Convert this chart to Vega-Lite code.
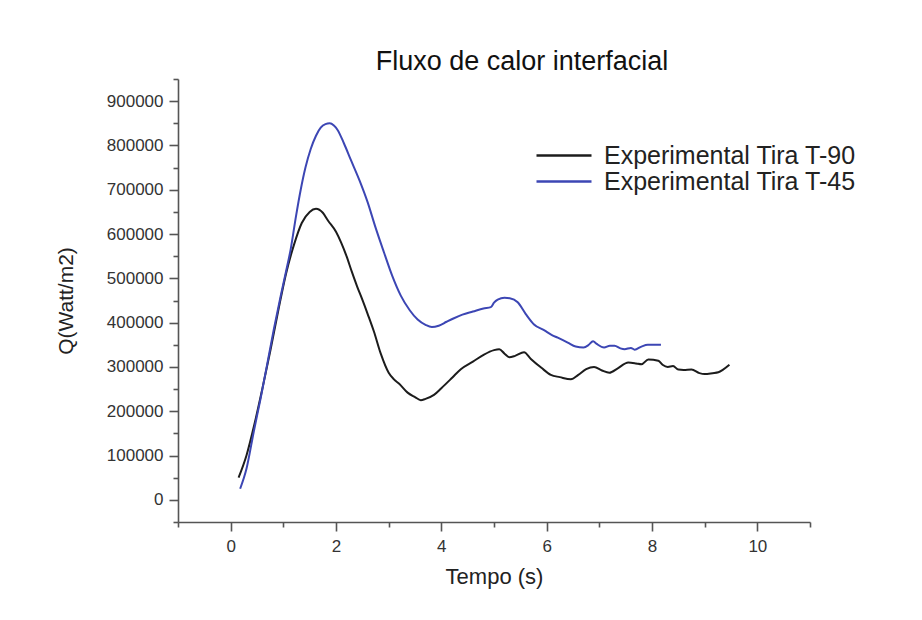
{
  "$schema": "https://vega.github.io/schema/vega-lite/v6.json",
  "autosize": {"type": "none"},
  "padding": {"left": 178, "top": 79, "right": 112, "bottom": 98},
  "width": 632,
  "height": 443,
  "background": "white",
  "config": {
    "view": {"stroke": null},
    "font": "Liberation Sans",
    "axis": {"grid": false, "domainColor": "#555", "domainWidth": 1.6, "tickColor": "#555", "tickWidth": 1.6, "labelFont": "Liberation Sans", "labelColor": "#333", "labelFontSize": 17, "titleFont": "Liberation Sans", "titleFontWeight": "normal", "titleColor": "#222", "titleFontSize": 22}
  },
  "title": {"text": "Fluxo de calor interfacial", "fontSize": 27, "fontWeight": "normal", "color": "#111", "anchor": "middle", "dx": 28, "offset": 2},
  "data": {"values": [
    {"serie": "Experimental Tira T-90", "tempo": 0.15, "q": 50000},
    {"serie": "Experimental Tira T-90", "tempo": 0.3, "q": 100000},
    {"serie": "Experimental Tira T-90", "tempo": 0.45, "q": 170000},
    {"serie": "Experimental Tira T-90", "tempo": 0.6, "q": 250000},
    {"serie": "Experimental Tira T-90", "tempo": 0.75, "q": 335000},
    {"serie": "Experimental Tira T-90", "tempo": 0.9, "q": 425000},
    {"serie": "Experimental Tira T-90", "tempo": 1.05, "q": 510000},
    {"serie": "Experimental Tira T-90", "tempo": 1.2, "q": 575000},
    {"serie": "Experimental Tira T-90", "tempo": 1.35, "q": 625000},
    {"serie": "Experimental Tira T-90", "tempo": 1.5, "q": 650000},
    {"serie": "Experimental Tira T-90", "tempo": 1.62, "q": 657000},
    {"serie": "Experimental Tira T-90", "tempo": 1.75, "q": 648000},
    {"serie": "Experimental Tira T-90", "tempo": 1.85, "q": 630000},
    {"serie": "Experimental Tira T-90", "tempo": 2.0, "q": 605000},
    {"serie": "Experimental Tira T-90", "tempo": 2.1, "q": 580000},
    {"serie": "Experimental Tira T-90", "tempo": 2.2, "q": 550000},
    {"serie": "Experimental Tira T-90", "tempo": 2.3, "q": 515000},
    {"serie": "Experimental Tira T-90", "tempo": 2.4, "q": 482000},
    {"serie": "Experimental Tira T-90", "tempo": 2.5, "q": 452000},
    {"serie": "Experimental Tira T-90", "tempo": 2.6, "q": 420000},
    {"serie": "Experimental Tira T-90", "tempo": 2.72, "q": 380000},
    {"serie": "Experimental Tira T-90", "tempo": 2.85, "q": 330000},
    {"serie": "Experimental Tira T-90", "tempo": 3.0, "q": 287000},
    {"serie": "Experimental Tira T-90", "tempo": 3.1, "q": 272000},
    {"serie": "Experimental Tira T-90", "tempo": 3.2, "q": 262000},
    {"serie": "Experimental Tira T-90", "tempo": 3.36, "q": 242000},
    {"serie": "Experimental Tira T-90", "tempo": 3.5, "q": 232000},
    {"serie": "Experimental Tira T-90", "tempo": 3.61, "q": 225000},
    {"serie": "Experimental Tira T-90", "tempo": 3.7, "q": 228000},
    {"serie": "Experimental Tira T-90", "tempo": 3.86, "q": 237000},
    {"serie": "Experimental Tira T-90", "tempo": 4.0, "q": 252000},
    {"serie": "Experimental Tira T-90", "tempo": 4.2, "q": 275000},
    {"serie": "Experimental Tira T-90", "tempo": 4.37, "q": 295000},
    {"serie": "Experimental Tira T-90", "tempo": 4.6, "q": 312000},
    {"serie": "Experimental Tira T-90", "tempo": 4.81, "q": 328000},
    {"serie": "Experimental Tira T-90", "tempo": 5.0, "q": 338000},
    {"serie": "Experimental Tira T-90", "tempo": 5.1, "q": 340000},
    {"serie": "Experimental Tira T-90", "tempo": 5.2, "q": 330000},
    {"serie": "Experimental Tira T-90", "tempo": 5.29, "q": 322000},
    {"serie": "Experimental Tira T-90", "tempo": 5.4, "q": 325000},
    {"serie": "Experimental Tira T-90", "tempo": 5.57, "q": 333000},
    {"serie": "Experimental Tira T-90", "tempo": 5.7, "q": 318000},
    {"serie": "Experimental Tira T-90", "tempo": 5.9, "q": 298000},
    {"serie": "Experimental Tira T-90", "tempo": 6.08, "q": 282000},
    {"serie": "Experimental Tira T-90", "tempo": 6.25, "q": 277000},
    {"serie": "Experimental Tira T-90", "tempo": 6.46, "q": 272000},
    {"serie": "Experimental Tira T-90", "tempo": 6.6, "q": 282000},
    {"serie": "Experimental Tira T-90", "tempo": 6.75, "q": 295000},
    {"serie": "Experimental Tira T-90", "tempo": 6.9, "q": 300000},
    {"serie": "Experimental Tira T-90", "tempo": 7.05, "q": 292000},
    {"serie": "Experimental Tira T-90", "tempo": 7.19, "q": 287000},
    {"serie": "Experimental Tira T-90", "tempo": 7.35, "q": 297000},
    {"serie": "Experimental Tira T-90", "tempo": 7.55, "q": 310000},
    {"serie": "Experimental Tira T-90", "tempo": 7.7, "q": 308000},
    {"serie": "Experimental Tira T-90", "tempo": 7.8, "q": 306000},
    {"serie": "Experimental Tira T-90", "tempo": 7.93, "q": 317000},
    {"serie": "Experimental Tira T-90", "tempo": 8.12, "q": 314000},
    {"serie": "Experimental Tira T-90", "tempo": 8.2, "q": 305000},
    {"serie": "Experimental Tira T-90", "tempo": 8.3, "q": 300000},
    {"serie": "Experimental Tira T-90", "tempo": 8.4, "q": 302000},
    {"serie": "Experimental Tira T-90", "tempo": 8.5, "q": 294000},
    {"serie": "Experimental Tira T-90", "tempo": 8.6, "q": 293000},
    {"serie": "Experimental Tira T-90", "tempo": 8.75, "q": 294000},
    {"serie": "Experimental Tira T-90", "tempo": 8.9, "q": 286000},
    {"serie": "Experimental Tira T-90", "tempo": 9.0, "q": 284000},
    {"serie": "Experimental Tira T-90", "tempo": 9.15, "q": 286000},
    {"serie": "Experimental Tira T-90", "tempo": 9.26, "q": 288000},
    {"serie": "Experimental Tira T-90", "tempo": 9.35, "q": 294000},
    {"serie": "Experimental Tira T-90", "tempo": 9.47, "q": 305000},
    {"serie": "Experimental Tira T-45", "tempo": 0.18, "q": 25000},
    {"serie": "Experimental Tira T-45", "tempo": 0.3, "q": 70000},
    {"serie": "Experimental Tira T-45", "tempo": 0.44, "q": 155000},
    {"serie": "Experimental Tira T-45", "tempo": 0.57, "q": 230000},
    {"serie": "Experimental Tira T-45", "tempo": 0.7, "q": 310000},
    {"serie": "Experimental Tira T-45", "tempo": 0.82, "q": 385000},
    {"serie": "Experimental Tira T-45", "tempo": 0.95, "q": 460000},
    {"serie": "Experimental Tira T-45", "tempo": 1.05, "q": 515000},
    {"serie": "Experimental Tira T-45", "tempo": 1.14, "q": 566000},
    {"serie": "Experimental Tira T-45", "tempo": 1.24, "q": 640000},
    {"serie": "Experimental Tira T-45", "tempo": 1.33, "q": 700000},
    {"serie": "Experimental Tira T-45", "tempo": 1.42, "q": 750000},
    {"serie": "Experimental Tira T-45", "tempo": 1.52, "q": 792000},
    {"serie": "Experimental Tira T-45", "tempo": 1.62, "q": 822000},
    {"serie": "Experimental Tira T-45", "tempo": 1.71, "q": 840000},
    {"serie": "Experimental Tira T-45", "tempo": 1.8, "q": 848000},
    {"serie": "Experimental Tira T-45", "tempo": 1.88, "q": 850000},
    {"serie": "Experimental Tira T-45", "tempo": 1.96, "q": 845000},
    {"serie": "Experimental Tira T-45", "tempo": 2.03, "q": 835000},
    {"serie": "Experimental Tira T-45", "tempo": 2.15, "q": 805000},
    {"serie": "Experimental Tira T-45", "tempo": 2.28, "q": 768000},
    {"serie": "Experimental Tira T-45", "tempo": 2.45, "q": 720000},
    {"serie": "Experimental Tira T-45", "tempo": 2.6, "q": 672000},
    {"serie": "Experimental Tira T-45", "tempo": 2.75, "q": 615000},
    {"serie": "Experimental Tira T-45", "tempo": 2.91, "q": 559000},
    {"serie": "Experimental Tira T-45", "tempo": 3.07, "q": 505000},
    {"serie": "Experimental Tira T-45", "tempo": 3.23, "q": 461000},
    {"serie": "Experimental Tira T-45", "tempo": 3.4, "q": 428000},
    {"serie": "Experimental Tira T-45", "tempo": 3.55, "q": 407000},
    {"serie": "Experimental Tira T-45", "tempo": 3.7, "q": 395000},
    {"serie": "Experimental Tira T-45", "tempo": 3.82, "q": 390000},
    {"serie": "Experimental Tira T-45", "tempo": 3.95, "q": 393000},
    {"serie": "Experimental Tira T-45", "tempo": 4.1, "q": 402000},
    {"serie": "Experimental Tira T-45", "tempo": 4.24, "q": 410000},
    {"serie": "Experimental Tira T-45", "tempo": 4.4, "q": 418000},
    {"serie": "Experimental Tira T-45", "tempo": 4.6, "q": 425000},
    {"serie": "Experimental Tira T-45", "tempo": 4.8, "q": 432000},
    {"serie": "Experimental Tira T-45", "tempo": 4.94, "q": 435000},
    {"serie": "Experimental Tira T-45", "tempo": 5.0, "q": 445000},
    {"serie": "Experimental Tira T-45", "tempo": 5.07, "q": 452000},
    {"serie": "Experimental Tira T-45", "tempo": 5.2, "q": 456000},
    {"serie": "Experimental Tira T-45", "tempo": 5.3, "q": 455000},
    {"serie": "Experimental Tira T-45", "tempo": 5.45, "q": 446000},
    {"serie": "Experimental Tira T-45", "tempo": 5.6, "q": 420000},
    {"serie": "Experimental Tira T-45", "tempo": 5.76, "q": 396000},
    {"serie": "Experimental Tira T-45", "tempo": 5.95, "q": 383000},
    {"serie": "Experimental Tira T-45", "tempo": 6.1, "q": 372000},
    {"serie": "Experimental Tira T-45", "tempo": 6.21, "q": 366000},
    {"serie": "Experimental Tira T-45", "tempo": 6.4, "q": 355000},
    {"serie": "Experimental Tira T-45", "tempo": 6.55, "q": 346000},
    {"serie": "Experimental Tira T-45", "tempo": 6.7, "q": 344000},
    {"serie": "Experimental Tira T-45", "tempo": 6.8, "q": 350000},
    {"serie": "Experimental Tira T-45", "tempo": 6.88, "q": 358000},
    {"serie": "Experimental Tira T-45", "tempo": 6.95, "q": 352000},
    {"serie": "Experimental Tira T-45", "tempo": 7.09, "q": 344000},
    {"serie": "Experimental Tira T-45", "tempo": 7.2, "q": 348000},
    {"serie": "Experimental Tira T-45", "tempo": 7.29, "q": 348000},
    {"serie": "Experimental Tira T-45", "tempo": 7.4, "q": 342000},
    {"serie": "Experimental Tira T-45", "tempo": 7.48, "q": 340000},
    {"serie": "Experimental Tira T-45", "tempo": 7.6, "q": 343000},
    {"serie": "Experimental Tira T-45", "tempo": 7.67, "q": 339000},
    {"serie": "Experimental Tira T-45", "tempo": 7.8, "q": 346000},
    {"serie": "Experimental Tira T-45", "tempo": 7.92, "q": 350000},
    {"serie": "Experimental Tira T-45", "tempo": 8.05, "q": 350000},
    {"serie": "Experimental Tira T-45", "tempo": 8.17, "q": 350000}
  ]},
  "layer": [
    {
      "transform": [{"filter": "datum.serie === 'Experimental Tira T-90'"}],
      "mark": {"type": "line", "strokeWidth": 2, "interpolate": "monotone"},
      "encoding": {
        "x": {"field": "tempo", "type": "quantitative", "scale": {"domain": [-1, 11], "nice": false, "zero": false},
              "axis": {"orient": "bottom", "title": "Tempo (s)", "values": [0, 2, 4, 6, 8, 10], "tickSize": 9, "labelPadding": 7, "titlePadding": 12}},
        "y": {"field": "q", "type": "quantitative", "scale": {"domain": [-50000, 950000], "nice": false, "zero": false},
              "axis": {"orient": "left", "title": "Q(Watt/m2)", "values": [0, 100000, 200000, 300000, 400000, 500000, 600000, 700000, 800000, 900000], "format": "d", "tickSize": 9, "labelPadding": 6, "titlePadding": 30, "titleFontSize": 21}},
        "color": {"field": "serie", "type": "nominal",
                  "scale": {"domain": ["Experimental Tira T-90", "Experimental Tira T-45"], "range": ["#1c1c1c", "#3c46b4"]},
                  "legend": {"title": null, "orient": "none", "legendX": 357, "legendY": 64, "symbolType": "stroke", "symbolSize": 3025, "symbolStrokeWidth": 2.5, "clipHeight": 25, "rowPadding": 0, "labelFontSize": 25, "labelFont": "Liberation Sans", "labelColor": "#222", "labelOffset": 11, "labelLimit": 0}}
      }
    },
    {
      "transform": [{"filter": "datum.serie === 'Experimental Tira T-45'"}],
      "mark": {"type": "line", "strokeWidth": 2, "interpolate": "monotone"},
      "encoding": {
        "x": {"field": "tempo", "type": "quantitative",
              "axis": {"orient": "bottom", "title": null, "labels": false, "domain": false, "values": [-1, 1, 3, 5, 7, 9, 11], "tickSize": 5}},
        "y": {"field": "q", "type": "quantitative",
              "axis": {"orient": "left", "title": null, "labels": false, "domain": false, "values": [-50000, 50000, 150000, 250000, 350000, 450000, 550000, 650000, 750000, 850000, 950000], "tickSize": 5}},
        "color": {"field": "serie", "type": "nominal"}
      }
    }
  ],
  "resolve": {"axis": {"x": "independent", "y": "independent"}}
}
